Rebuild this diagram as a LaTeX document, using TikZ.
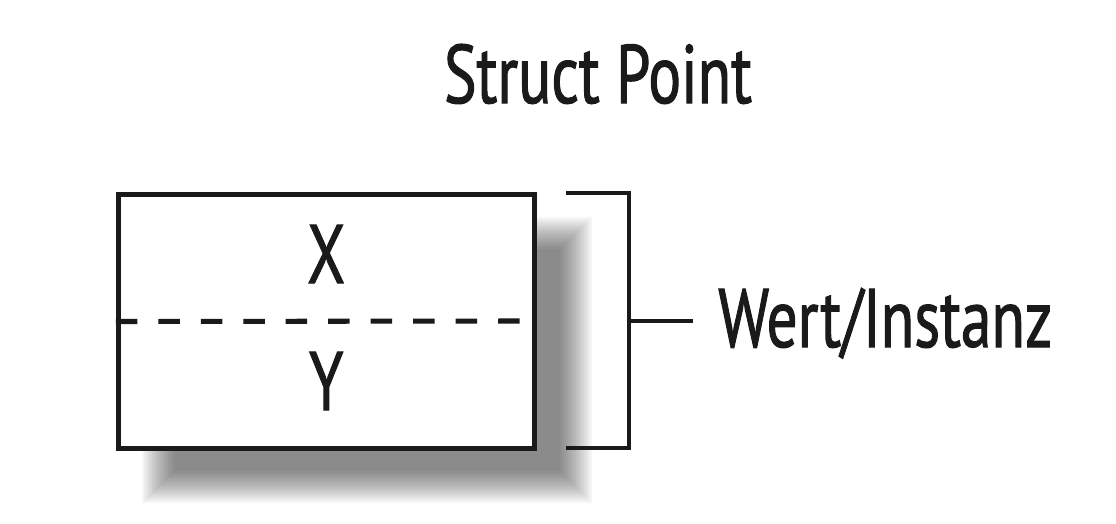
\documentclass[tikz,border=0pt]{standalone}
\usepackage{fontspec}
\setmainfont{PT Sans}[FakeStretch=0.74,FakeBold=1.2]
\usetikzlibrary{positioning,calc,backgrounds}
\definecolor{ink}{HTML}{1A1A1A}
\tikzset{
  structbox/.style = {rectangle, draw=ink, fill=white, line width=3.6pt,
                      minimum width=10.39cm, minimum height=6.35cm, inner sep=0pt},
  shadowlayer/.style = {fill=black, fill opacity=0.035},
  fieldlbl/.style  = {font=\fontsize{59}{60}\selectfont, text=ink, inner sep=0pt},
  divider/.style   = {draw=ink, line width=3.6pt, dash pattern=on 15.3pt off 14.9pt},
  brace/.style     = {draw=ink, line width=3.4pt},
}
\begin{document}
\begin{tikzpicture}
\useasboundingbox (0,0) rectangle (27.9,-13.1);

%── the struct value with its two fields ──────────────────────────
\node[structbox] (pt) at (8.156,-8.0375) {};
% soft shadow, built from stacked translucent rectangles
\begin{scope}[on background layer]
  \foreach \i in {0,...,16}{
    \fill[shadowlayer] ($(pt.north west)+(0.65+\i*0.05,-0.625-\i*0.05)$)
      rectangle ($(pt.south east)+(1.375-\i*0.05,-1.3+\i*0.05)$);
  }
\end{scope}
\node[fieldlbl, anchor=base] (title) at (14.95,-2.575) {Struct Point};
\node[fieldlbl, anchor=base] (fx) at (8.156,-7.075) {X};
\node[fieldlbl, anchor=base] (fy) at (8.156,-10.25) {Y};
% dashed divider between the fields
\coordinate (divend) at (13.025,-8.025);
\draw[divider] (pt.west) -- (divend);

%── bracket and label ─────────────────────────────────────────────
\coordinate (btop) at (14.15,-4.825);
\coordinate (bmid) at (15.725,-8.025);
\coordinate (bbot) at (14.15,-11.2);
\coordinate (tick) at (17.325,-8.025);
\draw[brace] (btop) -| (bmid) |- (bbot);
\draw[brace] (bmid) -- (tick);
\node[fieldlbl, anchor=base west] (inst) at (17.95,-8.675) {Wert/Instanz};

\end{tikzpicture}
\end{document}
